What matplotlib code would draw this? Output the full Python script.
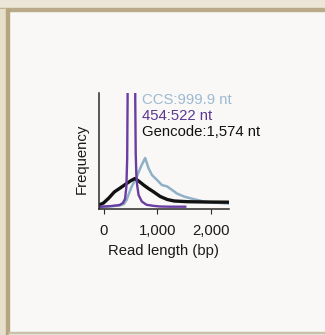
import matplotlib
matplotlib.use("Agg")
import matplotlib.pyplot as plt
from matplotlib.patches import Rectangle

plt.rcParams['font.family'] = ['Liberation Sans', 'DejaVu Sans']

# read length (bp) vs frequency (arbitrary units, axis top = 116)
ccs_len = [-100, 0, 100, 200, 300, 380, 430, 470, 520, 600, 645, 710, 775,
           835, 900, 995, 1085, 1185, 1275, 1365, 1495, 1615, 1745, 1865, 2010, 2340]
ccs_freq = [1.5, 2, 2.5, 3, 3.5, 5, 9, 15, 22, 30, 36, 44, 51,
            41, 34, 29, 24, 22.5, 19, 15.5, 12.5, 10.7, 9, 7.5, 6.5, 5.5]

r454_len = [-100, 0, 150, 300, 360, 400, 425, 440, 448, 458, 522, 582, 590,
            599, 610, 625, 652, 712, 800, 920, 1050, 1250, 1520]
r454_freq = [2, 2.5, 3, 4, 6, 10, 22, 50, 110, 400, 900, 400, 110,
             55, 35, 24, 14, 7.5, 4.2, 3.2, 2.5, 2.3, 2.3]

gencode_len = [-100, 0, 100, 200, 310, 430, 515, 585, 665, 745, 835, 935,
               1055, 1185, 1315, 1565, 1910, 2340]
gencode_freq = [3.5, 6, 11, 17, 21, 25.5, 28.5, 30.5, 27.5, 24, 20.5, 17,
                12.5, 9.5, 8, 7.3, 7, 6.8]

labels = ['CCS:999.9 nt', '454:522 nt', 'Gencode:1,574 nt']
label_colors = ['#9dbad3', '#5b3792', '#111111']
xticks = [0, 1000, 2000]
xtick_labels = ['0', '1,000', '2,000']

W, H = 325, 335
FS = 10.7


def fx(px):
    return px / W


def fy(py):
    return 1 - py / H


fig = plt.figure(figsize=(3.25, 3.35), dpi=100, facecolor='#f9f8f6')

# paper frame around the panel
fig.add_artist(Rectangle((0, fy(9)), 1, 9 / H, transform=fig.transFigure,
                         color='#ebe6d7', zorder=0))
fig.add_artist(Rectangle((0, fy(11)), 1, 2.5 / H, transform=fig.transFigure,
                         color='#b9aa89', zorder=0))
fig.add_artist(Rectangle((0, 0), fx(5.5), fy(9), transform=fig.transFigure,
                         color='#e6dfcc', zorder=0))
fig.add_artist(Rectangle((fx(5.5), 0), fx(3.5), fy(9), transform=fig.transFigure,
                         color='#b7a582', zorder=0))
fig.add_artist(Rectangle((fx(9), 0), 1, 3 / H, transform=fig.transFigure,
                         color='#ece8dc', zorder=0))
fig.add_artist(Rectangle((fx(9), fy(333)), 1, 1.5 / H, transform=fig.transFigure,
                         color='#c9c1ab', zorder=0))

ax = fig.add_axes([fx(98.5), fy(209), (229 - 98.5) / W, (209 - 93) / H])
ax.set_facecolor('none')

ax.plot(ccs_len, ccs_freq, color='#8fb0c6', lw=1.8, solid_joinstyle='round')
ax.plot(gencode_len, gencode_freq, color='#111111', lw=2.4, solid_joinstyle='round')
ax.plot(r454_len, r454_freq, color='#6a3ea1', lw=1.7, solid_joinstyle='round')

ax.set_xlim(-93, 2333)
ax.set_ylim(0, 116)

for s in ['top', 'right']:
    ax.spines[s].set_visible(False)
for s in ['left', 'bottom']:
    ax.spines[s].set_color('#2a2a2a')
    ax.spines[s].set_linewidth(1.1)

ax.set_yticks([])
ax.set_xticks(xticks)
ax.set_xticklabels(xtick_labels)
ax.tick_params(axis='x', direction='out', length=3.8, width=0.8,
               color='#2a2a2a', pad=7, labelsize=FS, labelcolor='#1a1a1a')

ax.set_xlabel('Read length (bp)', fontsize=FS, color='#1a1a1a', va='center')
ax.xaxis.set_label_coords(0.5, (209 - 251) / 116)
ax.text((82 - 98.5) / 130.5, (209 - 159) / 116, 'Frequency', rotation=90,
        ha='center', va='center', fontsize=FS, color='#1a1a1a',
        transform=ax.transAxes)

baselines = [104.5, 120, 135.5]
for txt, c, b in zip(labels, label_colors, baselines):
    ax.text((142.5 - 98.5) / 130.5, (209 - b) / 116, txt, color=c,
            fontsize=FS, ha='left', va='baseline', transform=ax.transAxes)

fig.savefig('out.png', dpi=100, facecolor=fig.get_facecolor())
